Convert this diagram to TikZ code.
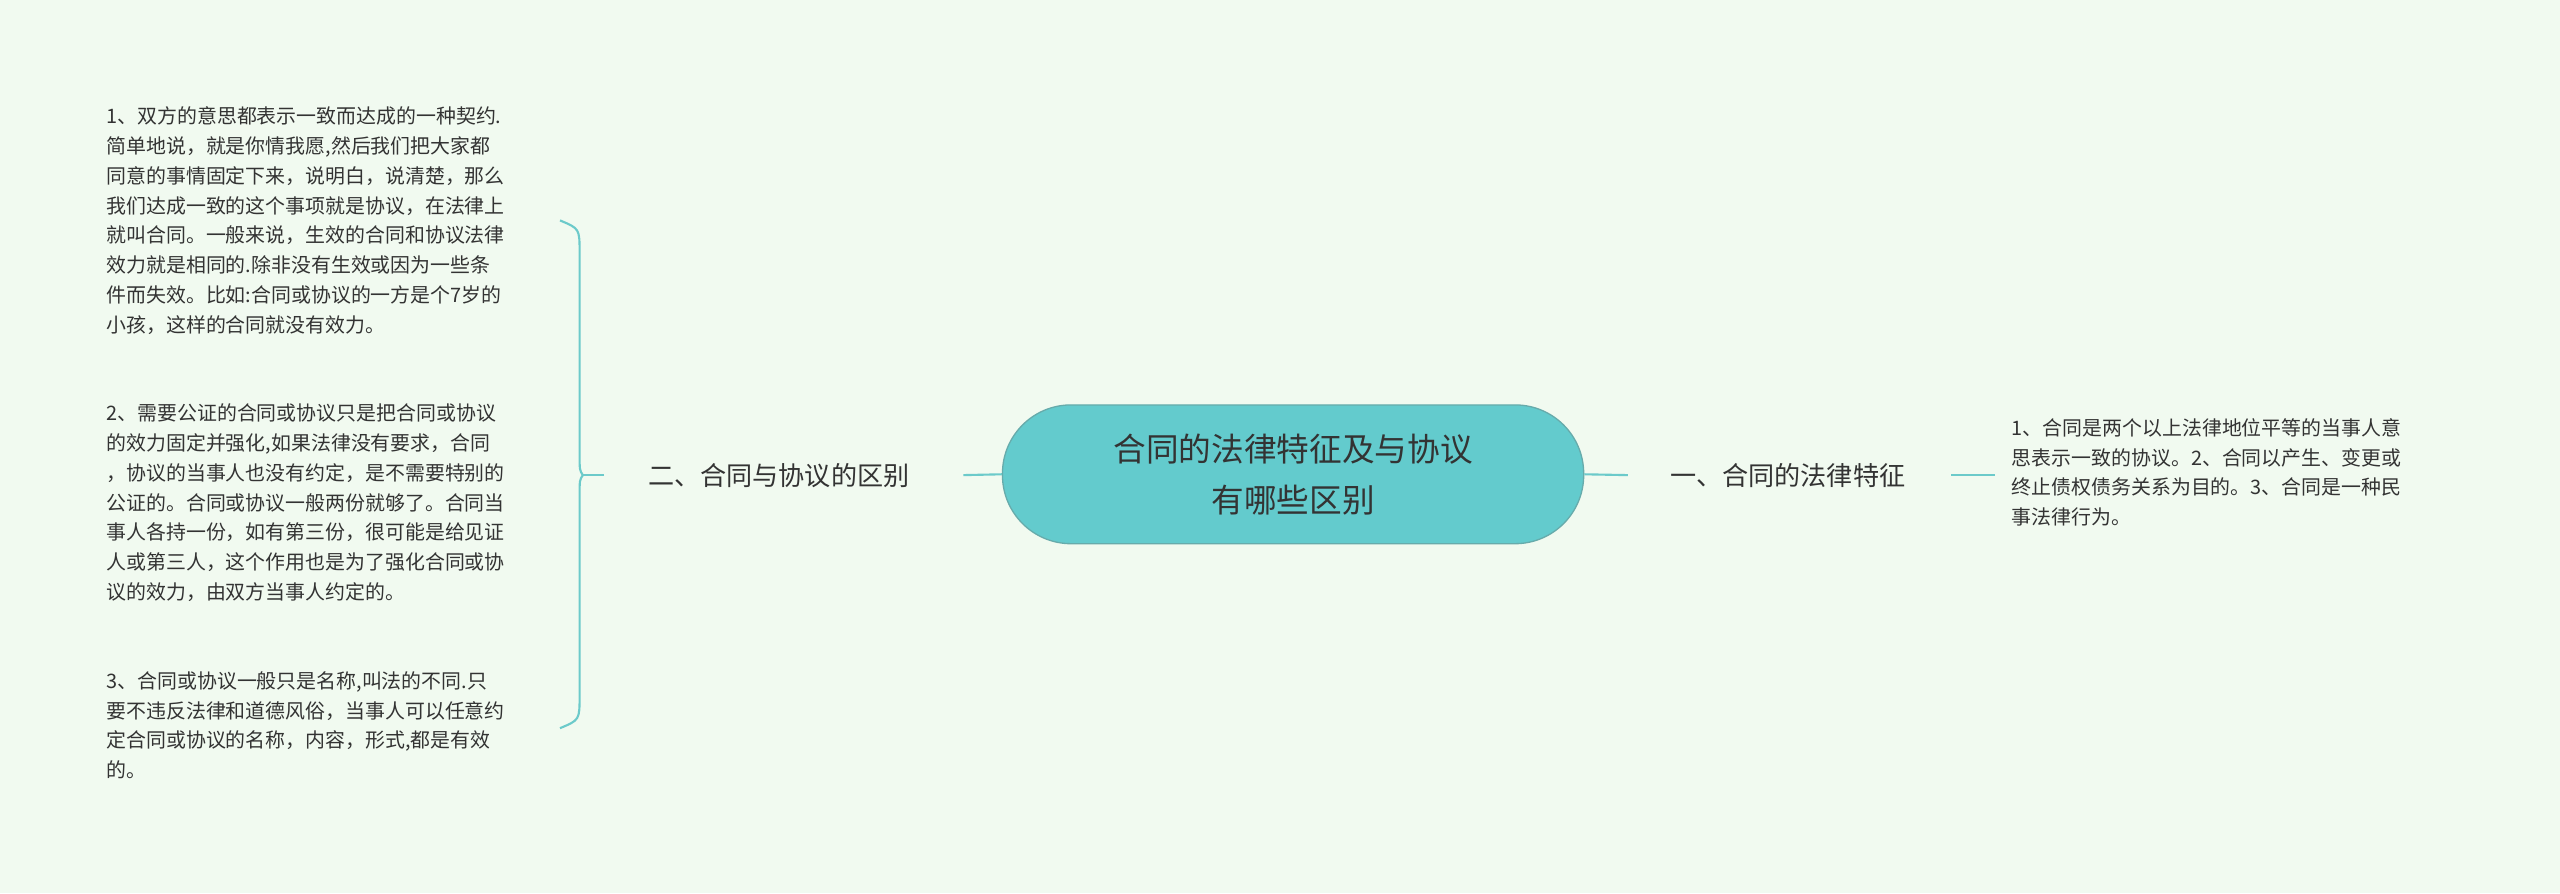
\documentclass[tikz,border=0pt]{standalone}
\usepackage{fontspec}
\setmainfont{Noto Sans CJK SC}
\begin{document}
\begin{tikzpicture}[x=1pt,y=-1pt,
  conn/.style={draw=lineC,line width=1.3pt},
  leaf/.style={align=left,font=\fontsize{12.2}{18.3}\selectfont,text=textC,inner sep=0pt,anchor=north west},
  branch/.style={font=\fontsize{16}{20}\selectfont,text=textC,inner sep=2pt}]
\definecolor{bgC}{HTML}{F1FAF0}
\definecolor{lineC}{HTML}{6CCACA}
\definecolor{mainC}{HTML}{63CBCD}
\definecolor{textC}{HTML}{333333}
\fill[bgC] (0,0) rectangle (1568,547);
\useasboundingbox (0,0) rectangle (1568,547);
\node[draw=lineC!80!black!90,fill=mainC,rounded corners=42pt,minimum width=356pt,minimum height=85pt,line width=0.8pt,
  font=\fontsize{20}{31}\selectfont,align=center,text=textC] (root) at (792,290.5) {合同的法律特征及与协议\\有哪些区别};
\node[branch] (r1) at (1095,291) {一、合同的法律特征};
\node[branch] (l1) at (477,291) {二、合同与协议的区别};
\coordinate (r1a) at (997,291);
\coordinate (r1b) at (1195,291);
\coordinate (r2) at (1222,291);
\draw[conn] (root.east) -- (r1a);
\draw[conn] (r1b) -- (r2);
\coordinate (l1a) at (590,291);
\coordinate (l1b) at (370,291);
\draw[conn] (root.west) -- (l1a);
\coordinate (bm) at (357,291);
\coordinate (bt) at (343,135);
\coordinate (bb) at (343,446);
\draw[conn] (l1b) -- (bm);
\draw[conn] (bt) .. controls (355,140) .. (355,155) -- (355,278) .. controls (355,288) .. (bm);
\draw[conn] (bb) .. controls (355,441) .. (355,426) -- (355,304) .. controls (355,294) .. (bm);
\node[leaf] (rt) at (1232,256) {1、合同是两个以上法律地位平等的当事人意\\思表示一致的协议。2、合同以产生、变更或\\终止债权债务关系为目的。3、合同是一种民\\事法律行为。};
\node[leaf] (t1) at (65,65) {1、双方的意思都表示一致而达成的一种契约.\\简单地说，就是你情我愿,然后我们把大家都\\同意的事情固定下来，说明白，说清楚，那么\\我们达成一致的这个事项就是协议，在法律上\\就叫合同。一般来说，生效的合同和协议法律\\效力就是相同的.除非没有生效或因为一些条\\件而失效。比如:合同或协议的一方是个7岁的\\小孩，这样的合同就没有效力。};
\node[leaf] (t2) at (65,247) {2、需要公证的合同或协议只是把合同或协议\\的效力固定并强化,如果法律没有要求，合同\\，协议的当事人也没有约定，是不需要特别的\\公证的。合同或协议一般两份就够了。合同当\\事人各持一份，如有第三份，很可能是给见证\\人或第三人，这个作用也是为了强化合同或协\\议的效力，由双方当事人约定的。};
\node[leaf] (t3) at (65,411) {3、合同或协议一般只是名称,叫法的不同.只\\要不违反法律和道德风俗，当事人可以任意约\\定合同或协议的名称，内容，形式,都是有效\\的。};
\end{tikzpicture}
\end{document}
